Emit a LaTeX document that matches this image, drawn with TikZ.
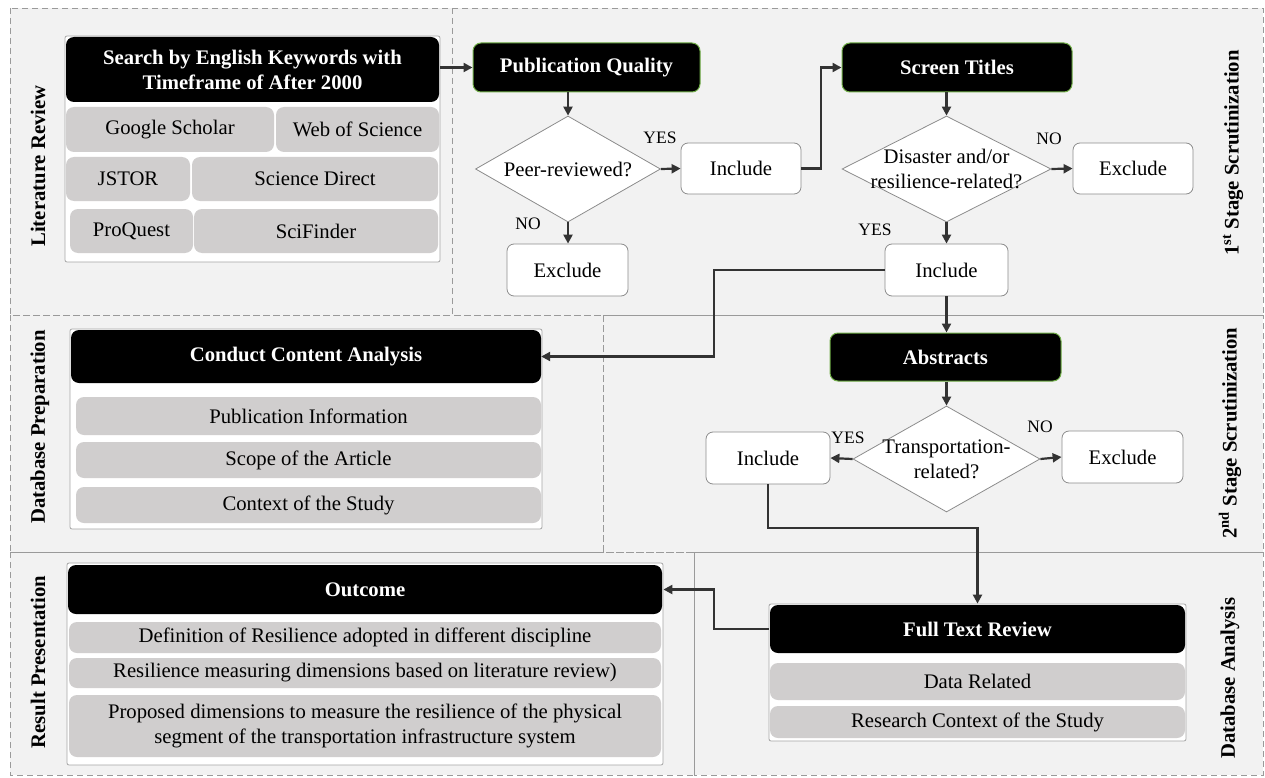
\documentclass[tikz,border=0pt]{standalone}
\usepackage{fontspec}
\setmainfont{Liberation Serif}
\usetikzlibrary{shapes.geometric,arrows.meta}
\definecolor{panelfill}{HTML}{F2F2F2}
\definecolor{paneldash}{HTML}{9A9A9A}
\definecolor{cellgray}{HTML}{D0CECE}
\definecolor{outergray}{HTML}{A6A6A6}
\definecolor{boxgray}{HTML}{8C8C8C}
\definecolor{conn}{HTML}{333333}
\definecolor{greenrim}{HTML}{70AD47}
\begin{document}
\begin{tikzpicture}[x=1pt,y=-1pt,
  font=\fontsize{20.7}{25}\selectfont,
  panelborder/.style={draw=paneldash, line width=0.8pt, dash pattern=on 6pt off 4pt},
  grpouter/.style={draw=outergray, line width=0.8pt, fill=white, rounded corners=2pt, inner sep=0pt},
  blackhead/.style={fill=black, text=white, rounded corners=8pt, inner sep=0pt, align=center,
     font=\fontsize{20.7}{25}\selectfont\bfseries},
  greenhead/.style={blackhead, draw=greenrim, line width=1pt},
  cell/.style={fill=cellgray, rounded corners=8pt, inner sep=0pt, align=center},
  optbox/.style={draw=boxgray, fill=white, line width=0.8pt, rounded corners=7pt, inner sep=0pt,
     minimum width=121, minimum height=52},
  dia/.style={diamond, draw=boxgray, fill=white, line width=0.8pt, inner sep=0pt},
  ctext/.style={align=center, inner sep=0pt},
  yn/.style={font=\fontsize{17.5}{20}\selectfont, inner sep=0pt},
  sidelab/.style={rotate=90, font=\fontsize{20.7}{25}\selectfont\bfseries, inner sep=0pt},
  arr/.style={draw=conn, line width=2.2pt, -{Triangle[length=9pt,width=9pt]}}
]
\useasboundingbox (0,0) rectangle (1265,778);

% ---------- panels ----------
\fill[panelfill] (10,8) rectangle (1263,775);
\draw[panelborder] (10,8) rectangle (452,315);
\draw[panelborder] (452,8) rectangle (1263,315);
\draw[panelborder] (10,315) rectangle (603,552);
\draw[panelborder] (603,315) rectangle (1263,552);
\draw[panelborder] (10,552) rectangle (694,775);
\draw[panelborder] (694,552) rectangle (1263,775);

% ---------- side labels ----------
\node[sidelab] (lLit) at (38,166) {Literature Review};
\node[sidelab] (lPrep) at (40,427) {Database Preparation};
\node[sidelab] (lRes) at (38,662) {Result Presentation};
\node[sidelab] (lS1) at (1233,153) {1\textsuperscript{st} Stage Scrutinization};
\node[sidelab] (lS2) at (1230,433) {2\textsuperscript{nd} Stage Scrutinization};
\node[sidelab] (lAna) at (1230,678) {Database Analysis};

% ---------- literature review group ----------
\node[grpouter, minimum width=375, minimum height=226] (litout) at (252.5,149) {};
\node[blackhead, minimum width=373, minimum height=65] (search) at (252.5,69.5)
  {Search by English Keywords with\\Timeframe of After 2000};
\node[cell, minimum width=208, minimum height=45] (gs) at (170,129.5) {Google Scholar};
\node[cell, minimum width=163, minimum height=45] (wos) at (357.5,129.5) {Web of Science};
\node[cell, minimum width=124, minimum height=44] (jstor) at (128,179) {JSTOR};
\node[cell, minimum width=246, minimum height=44] (sd) at (315,179) {Science Direct};
\node[cell, minimum width=123, minimum height=44] (pq) at (131.5,231) {ProQuest};
\node[cell, minimum width=244, minimum height=44] (sf) at (316,231) {SciFinder};

% ---------- 1st stage ----------
\node[greenhead, minimum width=227, minimum height=49] (pubq) at (586.5,67.5) {Publication Quality};
\node[dia, minimum width=185, minimum height=106] (d1) at (568,169) {};
\node[ctext] (d1t) at (d1.center) {Peer-reviewed?};
\node[optbox, minimum width=120, minimum height=51] (inc1) at (741,168.5) {Include};
\node[optbox] (exc1) at (567.5,270) {Exclude};

\node[greenhead, minimum width=230, minimum height=49] (scr) at (957,67.5) {Screen Titles};
\node[dia, minimum width=209, minimum height=106] (d2) at (946.5,169) {};
\node[ctext] (d2t) at (d2.center) {Disaster and/or\\resilience-related?};
\node[optbox, minimum width=120, minimum height=51] (exc2) at (1133,168.5) {Exclude};
\node[optbox, minimum width=123] (inc2) at (946.5,270) {Include};

% ---------- database preparation group ----------
\node[grpouter, minimum width=472, minimum height=200] (ccaout) at (306,429) {};
\node[blackhead, minimum width=470, minimum height=53] (cca) at (306,356.5) {Conduct Content Analysis};
\node[cell, minimum width=465, minimum height=38] (pinfo) at (308.5,416) {Publication Information};
\node[cell, minimum width=465, minimum height=36] (scope) at (308.5,460) {Scope of the Article};
\node[cell, minimum width=465, minimum height=36] (ctx) at (308.5,505) {Context of the Study};

% ---------- 2nd stage ----------
\node[greenhead, minimum width=231, minimum height=48] (abs) at (945.5,357) {Abstracts};
\node[dia, minimum width=187, minimum height=106] (d3) at (946.5,459) {};
\node[ctext] (d3t) at (d3.center) {Transportation-\\related?};
\node[optbox, minimum width=124] (inc3) at (768,458) {Include};
\node[optbox] (exc3) at (1122.5,457) {Exclude};

% ---------- full text review group ----------
\node[grpouter, minimum width=417, minimum height=137] (ftrout) at (977.5,672.5) {};
\node[blackhead, minimum width=415, minimum height=48] (ftr) at (977.5,629) {Full Text Review};
\node[cell, minimum width=415, minimum height=37] (drel) at (977.5,681.5) {Data Related};
\node[cell, minimum width=415, minimum height=32] (rctx) at (977.5,722) {Research Context of the Study};

% ---------- outcome group ----------
\node[grpouter, minimum width=596, minimum height=202] (outout) at (365,664) {};
\node[blackhead, minimum width=594, minimum height=49] (outc) at (365,589.5) {Outcome};
\node[cell, minimum width=592, minimum height=31] (def) at (365,637.5) {Definition of Resilience adopted in different discipline};
\node[cell, minimum width=592, minimum height=30] (resm) at (365,673) {Resilience measuring dimensions based on literature review)};
\node[cell, minimum width=592, minimum height=62] (prop) at (365,726)
  {Proposed dimensions to measure the resilience of the physical\\segment of the transportation infrastructure system};

% ---------- YES / NO labels ----------
\node[yn] (y1) at (660,138) {YES};
\node[yn] (n1) at (528,224) {NO};
\node[yn] (n2) at (1049,139) {NO};
\node[yn] (y2) at (875,230) {YES};
\node[yn] (y3) at (848,438) {YES};
\node[yn] (n3) at (1040,427) {NO};

% ---------- routing points ----------
\coordinate (r1) at (821,0);
\coordinate (r2) at (714,0);
\coordinate (r3) at (977.5,528);
\coordinate (r4) at (714,0);

% ---------- connectors ----------
\draw[arr] (litout.east |- pubq.west) -- (pubq.west);
\draw[arr] (d1.north |- pubq.south) -- (d1.north);
\draw[arr] (d1.east) -- (inc1.west);
\draw[arr] (d1.south) -- (d1.south |- exc1.north);
\draw[arr] (inc1.east) -- (inc1.east -| r1) -- (r1 |- scr.west) -- (scr.west);
\draw[arr] (d2.north |- scr.south) -- (d2.north);
\draw[arr] (d2.east) -- (exc2.west);
\draw[arr] (d2.south) -- (inc2.north);
\draw[arr] (inc2.west) -- (inc2.west -| r2) -- (r2 |- cca.east) -- (cca.east);
\draw[arr] (inc2.south) -- (inc2.south |- abs.north);
\draw[arr] (d3.north |- abs.south) -- (d3.north);
\draw[arr] (d3.west) -- (inc3.east);
\draw[arr] (d3.east) -- (exc3.west);
\draw[arr] (inc3.south) |- (r3) -- (ftrout.north);
\draw[arr] (ftrout.west |- ftr.west) -- (ftr.west -| r4) -- (r4 |- outc.east) -- (outout.east |- outc.east);
\end{tikzpicture}
\end{document}
